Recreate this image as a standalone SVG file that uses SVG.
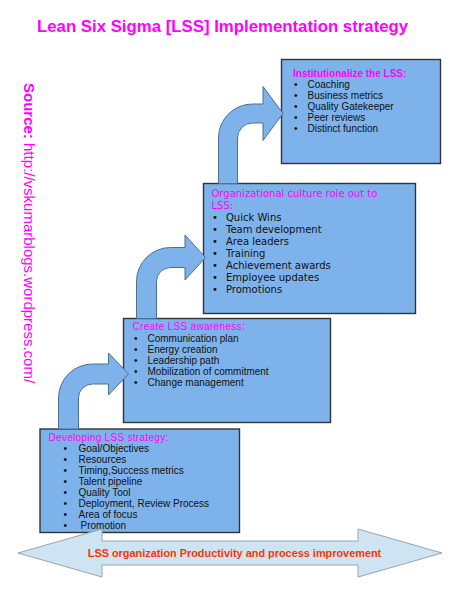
<svg xmlns="http://www.w3.org/2000/svg" width="467" height="603" viewBox="0 0 467 603">
<style>
.box{fill:#7db3ea;stroke:#333;stroke-width:1.4}
.arr{fill:#7db3ea;stroke:#4d6f96;stroke-width:1}
.ha{font-family:"Liberation Sans",Arial,sans-serif;font-size:10px;fill:#111}
.hd{font-family:"DejaVu Sans",Verdana,sans-serif;font-size:10px;fill:#111}
.tt{fill:#ff00ff}
</style>
<rect width="467" height="603" fill="#fff"/>
<text x="37" y="32" font-family="Liberation Sans,Arial,sans-serif" font-weight="bold" font-size="16.8" fill="#ff00ff">Lean Six Sigma [LSS] Implementation strategy</text>
<text transform="translate(24,83) rotate(90)" font-family="Liberation Sans,Arial,sans-serif" font-size="15" fill="#ff00ff"><tspan font-weight="bold">Source:</tspan> http://vskumarblogs.wordpress.com/</text>

<g id="box4">
<rect class="box" x="281.5" y="59.5" width="159" height="104"/>
<text class="ha tt" x="293" y="76.5" font-weight="bold">Institutionalize the LSS:</text>
<g class="ha">
<text x="294" y="88">•</text><text x="307.5" y="88">Coaching</text>
<text x="294" y="99">•</text><text x="307.5" y="99">Business metrics</text>
<text x="294" y="110">•</text><text x="307.5" y="110">Quality Gatekeeper</text>
<text x="294" y="121">•</text><text x="307.5" y="121">Peer reviews</text>
<text x="294" y="132">•</text><text x="307.5" y="132">Distinct function</text>
</g>
</g>

<g id="box3">
<rect class="box" x="203.5" y="183.5" width="212" height="130"/>
<text class="hd tt" x="211.5" y="197" font-size="9.5">Organizational culture role out to</text>
<text class="hd tt" x="211.5" y="209" font-size="9.5">LSS:</text>
<g class="hd">
<text x="212" y="221">•</text><text x="226" y="221">Quick Wins</text>
<text x="212" y="233">•</text><text x="226" y="233">Team development</text>
<text x="212" y="245">•</text><text x="226" y="245">Area leaders</text>
<text x="212" y="257">•</text><text x="226" y="257">Training</text>
<text x="212" y="269">•</text><text x="226" y="269">Achievement awards</text>
<text x="212" y="281">•</text><text x="226" y="281">Employee updates</text>
<text x="212" y="293">•</text><text x="226" y="293">Promotions</text>
</g>
</g>

<g id="box2">
<rect class="box" x="123.5" y="318.5" width="207" height="104"/>
<text class="ha tt" x="132.5" y="330" letter-spacing="0.33">Create LSS awareness:</text>
<g class="ha">
<text x="134" y="341.5">•</text><text x="147.5" y="341.5">Communication plan</text>
<text x="134" y="352.5">•</text><text x="147.5" y="352.5">Energy creation</text>
<text x="134" y="363.5">•</text><text x="147.5" y="363.5">Leadership path</text>
<text x="134" y="374.5">•</text><text x="147.5" y="374.5">Mobilization of commitment</text>
<text x="134" y="385.5">•</text><text x="147.5" y="385.5">Change management</text>
</g>
</g>

<g id="box1">
<rect class="box" x="40" y="429" width="199.5" height="103.5"/>
<text class="ha tt" x="48.5" y="441" letter-spacing="0.3">Developing LSS strategy:</text>
<g class="ha">
<text x="63.5" y="452">•</text><text x="78.5" y="452">Goal/Objectives</text>
<text x="63.5" y="463">•</text><text x="78.5" y="463">Resources</text>
<text x="63.5" y="474">•</text><text x="78.5" y="474">Timing,Success metrics</text>
<text x="63.5" y="485">•</text><text x="78.5" y="485">Talent pipeline</text>
<text x="63.5" y="496">•</text><text x="78.5" y="496">Quality Tool</text>
<text x="63.5" y="507">•</text><text x="78.5" y="507">Deployment, Review Process</text>
<text x="63.5" y="518">•</text><text x="78.5" y="518">Area of focus</text>
<text x="63.5" y="529">•</text><text x="80.5" y="529">Promotion</text>
</g>
</g>

<g id="connectors">
<path class="arr" d="M58.5,429 V398 A34,34 0 0 1 92.5,364 H108.5 V353 L128.5,374 L108.5,395 V384 H92.5 A14,14 0 0 0 78.5,398 V429 Z"/>
<path class="arr" d="M136.5,318.5 V281.5 A34,34 0 0 1 170.5,247.5 H185 V235 L205.5,257.5 L185,280 V267.5 H170.5 A14,14 0 0 0 156.5,281.5 V318.5 Z"/>
<path class="arr" d="M218.5,183.5 V138 A34,34 0 0 1 252.5,104 H263 V86.5 L283,113.5 L263,140.5 V123 H252.5 A15,15 0 0 0 237.5,138 V183.5 Z"/>
</g>

<g id="base">
<path d="M18,553 L102,529 V541 H358 V529 L442,553 L358,577 V565 H102 V577 Z" fill="#cfe4f3" stroke="#9aa3ad" stroke-width="1"/>
<text x="234.5" y="557" text-anchor="middle" font-family="Liberation Sans,Arial,sans-serif" font-weight="bold" font-size="10.9" fill="#ff3300">LSS organization Productivity and process improvement</text>
</g>
</svg>
